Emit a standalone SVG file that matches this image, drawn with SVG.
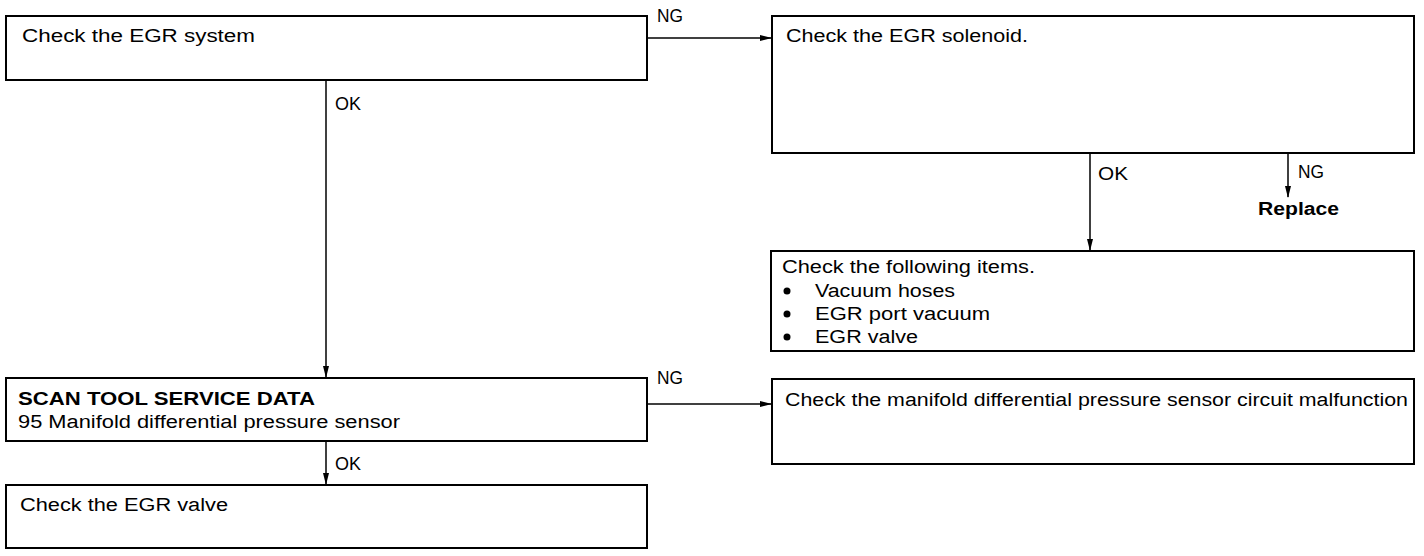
<svg xmlns="http://www.w3.org/2000/svg" width="1424" height="556" viewBox="0 0 1424 556">
<style>
.box{fill:#fff;stroke:#000;stroke-width:2}
.t{font-family:"Liberation Sans",Arial,sans-serif;font-size:18px;fill:#000}
.b{font-weight:bold}
.c{stroke:#000;stroke-width:1.5;fill:none}
</style>
<defs>
<marker id="ah" markerWidth="12" markerHeight="8" refX="11" refY="4" orient="auto" markerUnits="userSpaceOnUse">
<path d="M0,1 L12,4 L0,7 Z" fill="#000"/>
</marker>
</defs>
<rect width="1424" height="556" fill="#fff"/>
<g id="connectors">
<path class="c" d="M648,38 H771" marker-end="url(#ah)"/>
<path class="c" d="M326,81 V377" marker-end="url(#ah)"/>
<path class="c" d="M1090,154 V250" marker-end="url(#ah)"/>
<path class="c" d="M1288,154 V197" marker-end="url(#ah)"/>
<path class="c" d="M648,404 H771" marker-end="url(#ah)"/>
<path class="c" d="M326,442 V484" marker-end="url(#ah)"/>
<text class="t" x="657" y="22" textLength="26" lengthAdjust="spacingAndGlyphs">NG</text>
<text class="t" x="335" y="110" textLength="26" lengthAdjust="spacingAndGlyphs">OK</text>
<text class="t" x="1098" y="180" textLength="30" lengthAdjust="spacingAndGlyphs">OK</text>
<text class="t" x="1298" y="178" textLength="26" lengthAdjust="spacingAndGlyphs">NG</text>
<text class="t b" x="1258" y="215" textLength="81" lengthAdjust="spacingAndGlyphs">Replace</text>
<text class="t" x="657" y="384" textLength="26" lengthAdjust="spacingAndGlyphs">NG</text>
<text class="t" x="335" y="470" textLength="26" lengthAdjust="spacingAndGlyphs">OK</text>
</g>
<g id="n1">
<rect class="box" x="6" y="16" width="641" height="64"/>
<text class="t" x="22" y="42" textLength="233" lengthAdjust="spacingAndGlyphs">Check the EGR system</text>
</g>
<g id="n2">
<rect class="box" x="772" y="16" width="642" height="137"/>
<text class="t" x="786" y="42" textLength="242" lengthAdjust="spacingAndGlyphs">Check the EGR solenoid.</text>
</g>
<g id="n3">
<rect class="box" x="771" y="251" width="643" height="100"/>
<text class="t" x="782" y="273" textLength="253" lengthAdjust="spacingAndGlyphs">Check the following items.</text>
<circle cx="787" cy="291" r="3.5"/>
<text class="t" x="815" y="297" textLength="140" lengthAdjust="spacingAndGlyphs">Vacuum hoses</text>
<circle cx="787" cy="314" r="3.5"/>
<text class="t" x="815" y="320" textLength="175" lengthAdjust="spacingAndGlyphs">EGR port vacuum</text>
<circle cx="787" cy="337" r="3.5"/>
<text class="t" x="815" y="343" textLength="103" lengthAdjust="spacingAndGlyphs">EGR valve</text>
</g>
<g id="n4">
<rect class="box" x="6" y="378" width="641" height="63"/>
<text class="t b" x="18" y="405" textLength="297" lengthAdjust="spacingAndGlyphs">SCAN TOOL SERVICE DATA</text>
<text class="t" x="18" y="428" textLength="382" lengthAdjust="spacingAndGlyphs">95 Manifold differential pressure sensor</text>
</g>
<g id="n5">
<rect class="box" x="772" y="379" width="642" height="85"/>
<text class="t" x="785" y="406" textLength="623" lengthAdjust="spacingAndGlyphs">Check the manifold differential pressure sensor circuit malfunction</text>
</g>
<g id="n6">
<rect class="box" x="6" y="485" width="641" height="63"/>
<text class="t" x="20" y="511" textLength="208" lengthAdjust="spacingAndGlyphs">Check the EGR valve</text>
</g>
</svg>
